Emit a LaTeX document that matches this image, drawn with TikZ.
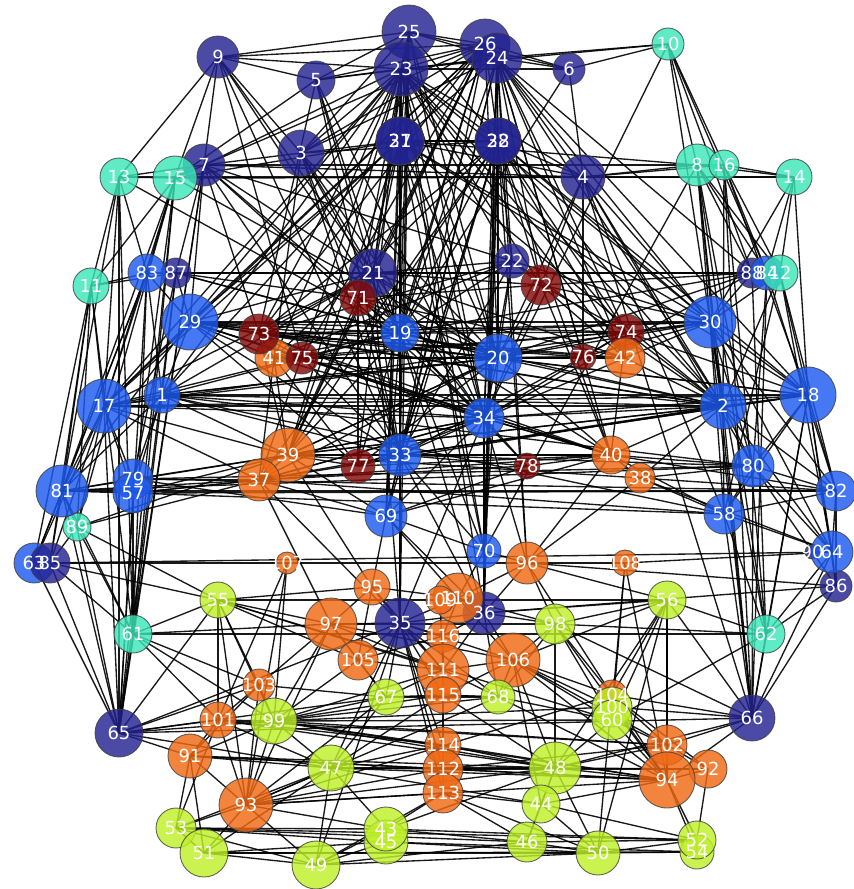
\documentclass[tikz,border=0pt]{standalone}
\usepackage{fontspec}
\setmainfont{DejaVu Sans}
\usetikzlibrary{backgrounds}
\definecolor{cnavy}{RGB}{35,35,145}
\definecolor{cblue}{RGB}{30,90,240}
\definecolor{cteal}{RGB}{60,230,185}
\definecolor{cdred}{RGB}{130,10,10}
\definecolor{corange}{RGB}{240,105,20}
\definecolor{cgreen}{RGB}{190,240,40}
\tikzset{
  vtx/.style={circle,draw=black!75,line width=0.9pt,fill opacity=0.82,draw opacity=0.8,inner sep=0pt},
  lbl/.style={text=white,inner sep=0pt,font=\fontsize{18}{18}\selectfont},
  edge/.style={black,line width=1.35pt,draw opacity=0.9}
}
\newcommand\vnode[5]{\node[vtx,fill=#1,minimum size=#5pt] (n#2) at (#3,#4) {};}
\begin{document}
\begin{tikzpicture}[x=1pt,y=-1pt]
\useasboundingbox (0,0) rectangle (854,889);
% navy
\vnode{cnavy}{25}{409}{32}{54}
\vnode{cnavy}{23}{401}{69}{54}
\vnode{cnavy}{9}{218}{57}{42}
\vnode{cnavy}{5}{316}{80}{38}
\vnode{cnavy}{3}{301}{153}{46}
\vnode{cnavy}{27}{400}{141}{48}
\vnode{cnavy}{31}{400}{141}{48}
\vnode{cnavy}{26}{485}{44}{50}
\vnode{cnavy}{24}{497}{58}{50}
\vnode{cnavy}{6}{569}{69}{32}
\vnode{cnavy}{28}{498}{141}{46}
\vnode{cnavy}{32}{498}{141}{46}
\vnode{cnavy}{4}{583}{177}{44}
\vnode{cnavy}{7}{204}{165}{42}
\vnode{cnavy}{21}{373}{273}{48}
\vnode{cnavy}{22}{512}{261}{34}
\vnode{cnavy}{87}{176}{273}{30}
\vnode{cnavy}{88}{752}{273}{30}
\vnode{cnavy}{65}{119}{733}{48}
\vnode{cnavy}{66}{752}{718}{46}
\vnode{cnavy}{86}{836}{586}{32}
\vnode{cnavy}{35}{400}{623}{50}
\vnode{cnavy}{36}{484}{613}{42}
\vnode{cnavy}{90}{812}{552}{14}
% teal
\vnode{cteal}{10}{668}{44}{32}
\vnode{cteal}{13}{119}{177}{38}
\vnode{cteal}{15}{175}{178}{44}
\vnode{cteal}{11}{91}{286}{36}
\vnode{cteal}{8}{697}{165}{42}
\vnode{cteal}{16}{724}{165}{30}
\vnode{cteal}{14}{794}{177}{36}
\vnode{cteal}{89}{77}{527}{28}
\vnode{cteal}{61}{133}{634}{38}
\vnode{cteal}{62}{766}{634}{38}
% blue
\vnode{cblue}{83}{147}{273}{38}
\vnode{cblue}{84}{767}{273}{34}
\vnode{cteal}{12}{780}{273}{36}
\vnode{cblue}{29}{190}{322}{56}
\vnode{cblue}{19}{400}{333}{38}
\vnode{cblue}{20}{498}{358}{48}
\vnode{cblue}{30}{710}{322}{52}
\vnode{cblue}{1}{162}{395}{36}
\vnode{cblue}{17}{104}{406}{54}
\vnode{cblue}{18}{808}{395}{56}
\vnode{cblue}{2}{723}{406}{46}
\vnode{cblue}{34}{484}{418}{40}
\vnode{cblue}{33}{400}{455}{42}
\vnode{cblue}{80}{753}{466}{42}
\vnode{cblue}{79}{133}{479}{40}
\vnode{cblue}{57}{133}{493}{40}
\vnode{cblue}{81}{62}{491}{52}
\vnode{cblue}{82}{836}{491}{40}
\vnode{cblue}{69}{386}{516}{42}
\vnode{cblue}{58}{724}{514}{40}
\vnode{cblue}{70}{484}{551}{34}
\vnode{cblue}{63}{34}{563}{40}
\vnode{cnavy}{85}{50}{563}{40}
\vnode{cblue}{64}{832}{552}{42}
% dark red
\vnode{cdred}{71}{358}{298}{36}
\vnode{cdred}{72}{541}{285}{40}
\vnode{corange}{41}{274}{358}{38}
\vnode{cdred}{73}{259}{334}{40}
\vnode{cdred}{75}{302}{358}{32}
\vnode{cdred}{74}{626}{332}{36}
\vnode{cdred}{76}{583}{357}{26}
\vnode{cdred}{77}{358}{466}{34}
\vnode{cdred}{78}{527}{466}{26}
% orange
\vnode{corange}{42}{625}{358}{40}
\vnode{corange}{39}{288}{455}{54}
\vnode{corange}{37}{259}{480}{42}
\vnode{corange}{40}{611}{455}{38}
\vnode{corange}{38}{640}{478}{30}
\vnode{corange}{107}{287}{563}{22}
\vnode{corange}{108}{625}{563}{26}
\vnode{corange}{96}{527}{563}{42}
\vnode{corange}{95}{372}{587}{36}
\vnode{corange}{97}{331}{624}{52}
\vnode{corange}{110}{458}{598}{50}
\vnode{corange}{109}{440}{600}{28}
\vnode{corange}{116}{443}{636}{32}
\vnode{corange}{105}{358}{660}{40}
\vnode{corange}{111}{443}{670}{52}
\vnode{corange}{106}{513}{660}{54}
\vnode{corange}{115}{443}{695}{36}
\vnode{corange}{103}{259}{685}{32}
\vnode{corange}{101}{218}{720}{36}
\vnode{corange}{104}{612}{695}{30}
\vnode{corange}{114}{443}{745}{36}
\vnode{corange}{91}{190}{756}{44}
\vnode{corange}{102}{667}{745}{40}
\vnode{corange}{112}{443}{769}{40}
\vnode{corange}{92}{708}{769}{38}
\vnode{corange}{94}{667}{780}{56}
\vnode{corange}{93}{246}{805}{54}
\vnode{corange}{113}{443}{793}{40}
% green
\vnode{cgreen}{55}{218}{600}{36}
\vnode{cgreen}{56}{667}{600}{38}
\vnode{cgreen}{98}{555}{624}{40}
\vnode{cgreen}{67}{386}{697}{36}
\vnode{cgreen}{68}{498}{697}{34}
\vnode{cgreen}{99}{274}{721}{46}
\vnode{cgreen}{100}{612}{707}{40}
\vnode{cgreen}{60}{612}{720}{40}
\vnode{cgreen}{47}{331}{768}{46}
\vnode{cgreen}{48}{555}{768}{52}
\vnode{cgreen}{44}{541}{804}{38}
\vnode{cgreen}{53}{176}{828}{40}
\vnode{cgreen}{45}{386}{842}{44}
\vnode{cgreen}{43}{386}{829}{44}
\vnode{cgreen}{46}{527}{842}{40}
\vnode{cgreen}{51}{204}{853}{48}
\vnode{cgreen}{49}{316}{865}{48}
\vnode{cgreen}{50}{598}{853}{44}
\vnode{cgreen}{54}{697}{852}{34}
\vnode{cgreen}{52}{697}{840}{38}
% labels
\foreach \i in {1,...,58} \node[lbl] (l\i) at (n\i) {\i};
\foreach \i in {60,...,116} \node[lbl] (l\i) at (n\i) {\i};
% edges
\begin{scope}[on background layer]
\foreach \a/\b in {
9/23, 9/25, 9/5, 9/13, 9/15, 9/7, 9/3, 9/21, 9/26, 9/75, 9/19,
5/23, 5/25, 5/24, 5/15, 5/21, 5/19, 5/33, 5/73,
3/23, 3/25, 3/24, 3/7, 3/27, 3/21, 3/71, 3/20, 3/34, 3/41,
7/15, 7/13, 7/4, 7/8, 7/29, 7/87, 7/19, 7/73, 7/23, 7/22, 7/61, 7/65, 7/20,
13/15, 13/11, 13/83, 13/17, 13/81, 13/61, 13/65,
15/11, 15/83, 15/17, 15/81, 15/57, 15/14, 15/31, 15/61, 15/65, 15/89,
25/23, 25/26, 25/24, 25/6, 25/31, 25/32, 25/19, 25/20, 25/33, 25/34, 25/35, 25/71, 25/21,
23/26, 23/24, 23/6, 23/10, 23/27, 23/28, 23/4, 23/21, 23/19, 23/20, 23/33, 23/69, 23/35, 23/29, 23/17, 23/1, 23/73, 23/41, 23/39, 23/37, 23/77, 23/22, 23/72, 23/74, 23/42, 23/30, 23/2,
24/6, 24/10, 24/32, 24/31, 24/4, 24/22, 24/20, 24/34, 24/70, 24/36, 24/30, 24/2, 24/18, 24/88, 24/74, 24/76, 24/42, 24/40, 24/96, 24/72,
26/29, 26/17, 26/1, 26/73, 26/75, 26/19, 26/21, 26/3, 26/5, 26/7, 26/71, 26/39, 26/77, 26/28, 26/33,
6/10, 6/4, 6/26, 6/19,
10/8, 10/16, 10/2, 10/34, 10/84, 10/88,
27/32, 27/19, 27/21, 27/33, 27/35, 27/69, 27/71, 27/29, 27/17, 27/2, 27/30, 27/20, 27/39, 31/4, 31/8, 31/18, 31/28,
32/4, 32/20, 32/34, 32/70, 32/36, 32/22, 32/72, 32/74, 32/42, 32/30, 32/2, 32/18, 32/40, 32/96, 28/19, 28/33, 28/73, 28/41, 28/3,
4/8, 4/16, 4/14, 4/2, 4/30, 4/80, 4/58, 4/72, 4/76, 4/13, 4/20, 4/66,
8/16, 8/14, 8/12, 8/84, 8/88, 8/30, 8/2, 8/80, 8/62, 8/66, 8/70,
16/14, 16/12, 16/84, 16/2, 16/18, 16/66, 16/62,
14/12, 14/84, 14/18, 14/30,
88/84, 84/12, 12/18, 12/30, 12/2, 12/82, 12/64, 84/80, 84/82, 88/21, 88/87, 88/30, 88/20, 88/19, 88/34, 12/58, 84/66, 88/62,
11/83, 11/87, 11/17, 11/81, 11/63, 11/85, 11/89, 11/61,
83/87, 83/17, 83/81, 83/29, 83/1, 83/63, 83/65, 83/61,
87/21, 87/29, 87/1, 87/79, 87/65, 87/19, 87/20, 87/71,
21/71, 21/19, 21/22, 21/72, 21/20, 21/33, 21/35, 21/73, 21/29, 21/17, 21/1, 21/39,
22/72, 22/20, 22/34, 22/19, 22/30, 22/2, 22/41, 22/73,
29/17, 29/1, 29/73, 29/75, 29/41, 29/19, 29/20, 29/34, 29/33, 29/74, 29/30, 29/77, 29/2, 29/81,
73/41, 73/75, 73/19, 73/20, 73/74, 73/42, 73/30, 73/76, 73/34, 73/2, 73/39,
41/75, 41/74, 41/42, 41/19, 41/20, 41/39, 41/37, 41/77, 41/2, 75/20, 75/76, 75/74, 75/33, 75/34, 75/40,
71/19, 71/72, 71/20, 71/33, 71/77, 71/39,
72/20, 72/74, 72/42, 72/30, 72/34, 72/40, 72/88,
74/42, 74/76, 74/30, 74/20, 74/2, 74/18, 74/40, 74/34,
19/20, 19/33, 19/34, 19/69, 19/35, 19/2, 19/30, 19/17, 19/1, 19/39,
20/34, 20/76, 20/42, 20/30, 20/2, 20/18, 20/1, 20/17, 20/39, 20/37, 20/70, 20/40,
30/2, 30/18, 30/42, 30/76, 30/80, 30/82, 30/58, 30/64, 30/66, 30/62,
17/1, 17/81, 17/79, 17/57, 17/63, 17/85, 17/89, 17/39, 17/37, 17/2, 17/34, 17/65,
1/81, 1/79, 1/57, 1/2, 1/34, 1/39, 1/33, 1/20, 1/18, 1/61,
18/2, 18/80, 18/82, 18/64, 18/86, 18/58, 18/34, 18/33, 18/66, 18/62,
2/80, 2/82, 2/58, 2/64, 2/34, 2/42, 2/40, 2/38, 2/33, 2/37, 2/39, 2/66,
34/33, 34/70, 34/40, 34/78, 34/42, 34/69, 34/37, 34/39, 34/36, 34/96,
33/77, 33/69, 33/39, 33/37, 33/35, 33/40, 33/78, 33/80, 33/18,
39/37, 39/77, 39/81, 39/79, 39/57, 39/69, 39/40, 39/38, 39/95, 37/81, 37/79, 37/57, 37/69, 37/40, 37/78, 37/35, 37/97,
40/38, 40/80, 40/58, 40/82, 40/78, 40/96, 38/80, 38/58, 38/82, 38/64, 38/96,
80/82, 80/58, 80/64, 80/86, 80/66, 58/82, 58/64, 58/66, 58/62, 82/64, 82/86,
81/79, 81/57, 81/89, 81/63, 81/85, 81/82, 79/57, 79/80, 57/58, 81/61, 81/65, 57/65, 57/61, 79/69, 57/37,
63/85, 85/64, 85/107, 85/61, 85/65, 85/89, 63/65, 85/55,
89/61, 89/65, 89/55, 89/37, 89/39,
61/65, 61/55, 61/62, 61/99, 61/101, 61/103, 61/97,
65/101, 65/99, 65/91, 65/103, 65/66, 65/55, 65/47, 65/67, 65/35,
66/62, 66/86, 66/64, 66/56, 66/104, 66/100, 66/94, 66/102, 66/48, 66/98,
62/86, 62/64, 62/56, 62/98, 62/60,
86/64, 86/36, 86/96, 64/90, 64/108,
55/97, 55/105, 55/103, 55/101, 55/93, 55/99, 55/56, 55/95, 55/111, 55/60,
56/98, 56/94, 56/102, 56/104, 56/60, 56/50, 56/48, 56/106, 56/96, 56/36,
95/97, 95/35, 95/105, 95/111, 95/110, 95/69,
97/35, 97/105, 97/111, 97/103, 97/93, 97/99, 97/67, 97/106, 97/98,
35/110, 35/36, 35/116, 35/111, 35/105, 35/106, 35/115, 35/114, 35/112, 35/113, 35/67, 35/68, 35/47, 35/49,
110/36, 110/116, 110/106, 110/96, 110/70, 109/111, 110/98,
36/116, 36/106, 36/98, 36/111, 36/70, 36/96, 36/68,
106/111, 106/68, 106/98, 106/104, 106/100, 106/60, 106/102, 106/94, 106/48, 106/44, 106/115,
111/116, 111/115, 111/105, 111/67, 111/68, 111/99,
115/114, 115/67, 115/68, 115/99, 115/48, 115/47,
114/112, 114/47, 114/48, 114/99, 114/101, 114/94,
112/113, 112/47, 112/48, 112/93, 112/91, 112/94, 112/102, 112/92,
113/43, 113/46, 113/44, 113/93, 113/49, 113/50,
103/101, 103/99, 103/91, 103/93, 103/67,
101/99, 101/91, 101/93, 101/53, 101/47, 101/48, 101/102,
91/93, 91/53, 91/51, 91/47, 91/99, 91/48, 91/94,
93/99, 93/53, 93/51, 93/49, 93/47, 93/43, 93/48, 93/94, 93/67, 93/68, 93/104,
99/47, 99/67, 99/48, 99/100, 99/60, 99/102, 99/68, 99/94,
47/48, 47/43, 47/49, 47/51, 47/53, 47/67, 47/44, 47/94,
48/44, 48/46, 48/50, 48/94, 48/102, 48/92, 48/98, 48/60, 48/43,
44/46, 44/50, 44/94, 44/52,
53/51, 53/43, 53/45, 53/52, 53/46, 53/49,
51/49, 51/45, 51/54, 51/50,
49/45, 49/46, 49/50, 49/43,
43/45, 43/46, 45/50, 43/52, 45/54,
46/50, 46/52, 50/52, 50/54, 50/104,
52/54, 52/94, 54/94, 52/92,
94/92, 94/102, 94/104, 94/60, 94/100, 94/98, 94/68,
92/102, 92/104, 102/104, 102/60,
104/100, 100/60, 60/98, 104/98, 60/68,
98/68, 98/96, 96/70, 96/108, 96/107, 96/104,
108/60, 108/94, 108/100, 107/93, 107/99, 107/101,
67/68, 67/105, 68/115, 105/116, 105/67, 105/99,
23/34, 23/70, 25/69, 24/33, 24/19, 24/69, 26/20, 27/34, 32/33, 32/69,
19/70, 33/70, 69/70, 19/36, 34/35, 69/36, 69/110, 33/36, 23/36, 31/70,
17/18, 81/80, 1/80, 17/30, 29/18, 57/82, 79/82, 39/2, 37/58, 1/58,
29/42, 29/40, 73/40, 41/40, 75/42, 71/42, 71/40, 77/40, 77/34, 77/20,
19/78, 33/76, 69/78, 69/40, 39/34, 37/34, 39/20, 21/34, 21/42, 22/33,
3/19, 3/33, 5/34, 7/34, 7/33, 15/20, 13/19, 9/33, 28/39, 28/37}
  \draw[edge] (n\a.center) -- (n\b.center);
\end{scope}
\end{tikzpicture}
\end{document}
